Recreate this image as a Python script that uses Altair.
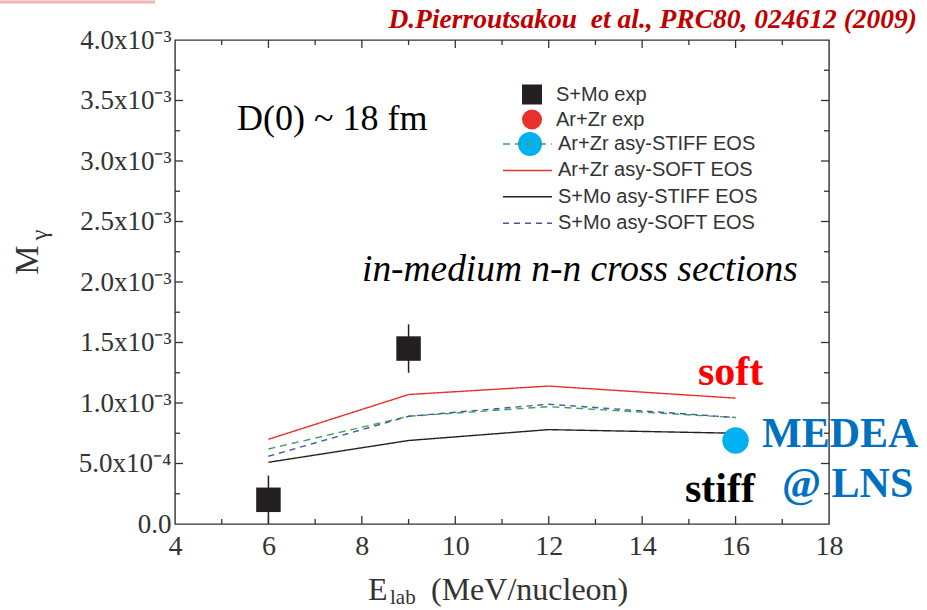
import altair as alt
import pandas as pd

# ---------------- data ----------------
model_x = [6, 9, 12, 16]
arzr_stiff = [0.00062, 0.00089, 0.00097, 0.00088]
arzr_soft = [0.00070, 0.00107, 0.00114, 0.00104]
smo_stiff = [0.00051, 0.00069, 0.00078, 0.00075]
smo_soft = [0.00056, 0.00089, 0.00099, 0.00088]
model_names = ["Ar+Zr asy-STIFF EOS", "Ar+Zr asy-SOFT EOS",
               "S+Mo asy-STIFF EOS", "S+Mo asy-SOFT EOS"]

exp_names = ["S+Mo exp", "Ar+Zr exp"]
smo_exp_x = [6, 9]
smo_exp_y = [0.00020, 0.00145]
smo_exp_err = [0.00020, 0.00020]

medea_x = [16]
medea_y = [0.00069]

x_label_vals = [4, 6, 8, 10, 12, 14, 16, 18]
y_label_vals = [0, 0.0005, 0.001, 0.0015, 0.002, 0.0025, 0.003, 0.0035, 0.004]
x_tick_vals = [5, 6, 7, 8, 9, 10, 11, 12, 13, 14, 15, 16, 17]
x_tick_major = [False, True, False, True, False, True, False, True, False, True, False, True, False]
y_tick_vals = [0.00025, 0.0005, 0.00075, 0.001, 0.00125, 0.0015, 0.00175, 0.002,
               0.00225, 0.0025, 0.00275, 0.003, 0.00325, 0.0035, 0.00375]
y_tick_major = [False, True, False, True, False, True, False, True,
                False, True, False, True, False, True, False]

citation = "D.Pierroutsakou\u00a0 et al., PRC80, 024612 (2009)"
note_d0 = "D(0) ~ 18 fm"
note_xsec = "in-medium n-n cross sections"
label_soft = "soft"
label_stiff = "stiff"
label_medea = "MEDEA"
label_lns = "@ LNS"
xtitle_main = "E"
xtitle_sub = "lab"
xtitle_unit = "(MeV/nucleon)"
ytitle_main = "M"
ytitle_sub = "γ"

# ---------------- layout ----------------
W, H = 654, 484
SERIF = "Liberation Serif"
SANS = "Liberation Sans"

xs = alt.Scale(domain=[4, 18], nice=False, zero=False)
ys = alt.Scale(domain=[0, 0.004], nice=False, zero=False)

x_axis = alt.Axis(values=x_label_vals, labelFont=SERIF, labelFontSize=28, labelColor="#333333",
                  ticks=False, domain=False, grid=False, title=None, labelPadding=8,
                  labelFlush=False)
y_label_expr = ("datum.value == 0 ? '0.0' : (datum.value < 0.00099 ? "
                "format(datum.value*10000, '.1f') + 'x10⁻⁴' : "
                "format(datum.value*1000, '.1f') + 'x10⁻³')")
y_axis = alt.Axis(values=y_label_vals, labelExpr=y_label_expr, labelFont=SERIF, labelFontSize=27,
                  labelColor="#333333", ticks=False, domain=False, grid=False, title=None,
                  labelPadding=4, labelFlush=False)

# model lines
rows = []
for name, vals in zip(model_names, [arzr_stiff, arzr_soft, smo_stiff, smo_soft]):
    for xv, yv in zip(model_x, vals):
        rows.append({"model": name, "x": xv, "y": yv})
lines_df = pd.DataFrame(rows)

line_legend = alt.Legend(title=None, orient="none", legendX=327, legendY=91, clipHeight=26,
                         rowPadding=0.4, padding=0, symbolSize=2401, symbolStrokeWidth=1.5,
                         labelFont=SANS, labelFontSize=20, labelColor="#333333", labelOffset=5,
                         labelLimit=400, symbolType="stroke")
lines = alt.Chart(lines_df).mark_line(strokeWidth=1.4, clip=True).encode(
    x=alt.X("x:Q", scale=xs, axis=x_axis),
    y=alt.Y("y:Q", scale=ys, axis=y_axis),
    color=alt.Color("model:N", scale=alt.Scale(domain=model_names,
                    range=["#3aa655", "#e8302c", "#222222", "#4a55a8"]), legend=line_legend),
    strokeDash=alt.StrokeDash("model:N", scale=alt.Scale(domain=model_names,
                    range=[[7, 5], [1, 0], [1, 0], [6, 5]]), legend=line_legend),
)

# experimental points
exp_df = pd.DataFrame({"x": smo_exp_x, "y": smo_exp_y, "err": smo_exp_err,
                       "series": ["S+Mo exp"] * len(smo_exp_x)})
pt_legend = alt.Legend(title=None, orient="none", legendX=347, legendY=42, clipHeight=25,
                       rowPadding=0, padding=0, symbolSize=400, symbolStrokeWidth=0,
                       labelFont=SANS, labelFontSize=20, labelColor="#333333", labelOffset=14,
                       labelLimit=400)
errbars = alt.Chart(exp_df).transform_calculate(
    lo="max(datum.y - datum.err, 0)", hi="datum.y + datum.err"
).mark_rule(color="#231f20", strokeWidth=1.5).encode(
    x=alt.X("x:Q", scale=xs, axis=x_axis),
    y=alt.Y("lo:Q", scale=ys, axis=y_axis),
    y2="hi:Q",
)
points = alt.Chart(exp_df).mark_point(filled=True, size=600, opacity=1).encode(
    x=alt.X("x:Q", scale=xs, axis=x_axis),
    y=alt.Y("y:Q", scale=ys, axis=y_axis),
    shape=alt.Shape("series:N", scale=alt.Scale(domain=exp_names, range=["square", "circle"]),
                    legend=pt_legend),
    color=alt.Color("series:N", scale=alt.Scale(domain=exp_names, range=["#231f20", "#e8302c"]),
                    legend=pt_legend),
)

medea_df = pd.DataFrame({"x": medea_x, "y": medea_y})
medea = alt.Chart(medea_df).mark_circle(size=700, color="#00b0f0", opacity=1).encode(
    x=alt.X("x:Q", scale=xs, axis=x_axis),
    y=alt.Y("y:Q", scale=ys, axis=y_axis),
)
legend_dot = alt.Chart(pd.DataFrame({"k": [0]})).mark_circle(
    size=573, color="#00b0f0", opacity=1).encode(x=alt.value(355), y=alt.value(104))

# inward ticks on all four sides
xt = pd.DataFrame({"v": x_tick_vals, "len": [16 if m else 10 for m in x_tick_major]})
yt = pd.DataFrame({"v": y_tick_vals, "len": [16 if m else 10 for m in y_tick_major]})
tick_style = dict(color="#333333", thickness=1.3, clip=True, opacity=1)
xt_bottom = alt.Chart(xt).mark_tick(orient="vertical", **tick_style).encode(
    x=alt.X("v:Q", scale=xs, axis=x_axis), y=alt.value(H), size=alt.Size("len:Q", scale=None))
xt_top = alt.Chart(xt).mark_tick(orient="vertical", **tick_style).encode(
    x=alt.X("v:Q", scale=xs, axis=x_axis), y=alt.value(0), size=alt.Size("len:Q", scale=None))
yt_left = alt.Chart(yt).mark_tick(orient="horizontal", **tick_style).encode(
    y=alt.Y("v:Q", scale=ys, axis=y_axis), x=alt.value(0), size=alt.Size("len:Q", scale=None))
yt_right = alt.Chart(yt).mark_tick(orient="horizontal", **tick_style).encode(
    y=alt.Y("v:Q", scale=ys, axis=y_axis), x=alt.value(W), size=alt.Size("len:Q", scale=None))


def txt(text, x, y, size, color="black", font=SERIF, weight="normal", style="normal",
        align="left", baseline="alphabetic", angle=0):
    return alt.Chart(pd.DataFrame({"t": [text]})).mark_text(
        align=align, baseline=baseline, font=font, fontSize=size, fontWeight=weight,
        fontStyle=style, color=color, angle=angle).encode(
        x=alt.value(x), y=alt.value(y), text="t:N")


texts = [
    txt(citation, 742, -12, 27.5, color="#c00000", weight="bold", style="italic", align="right"),
    txt(note_d0, 62, 90, 36),
    txt(note_xsec, 187, 241, 37.4, style="italic"),
    txt(label_soft, 523, 345, 42, color="#ff0000", weight="bold"),
    txt(label_stiff, 510, 462, 42, color="#000000", weight="bold"),
    txt(label_medea, 587, 407, 42, color="#0070c0", weight="bold"),
    txt(label_lns, 607, 457, 42, color="#0070c0", weight="bold"),
    txt(xtitle_main, 193, 560, 32, color="#333333"),
    txt(xtitle_sub, 215, 564, 21, color="#333333"),
    txt(xtitle_unit, 256, 560, 32, color="#333333"),
    txt(ytitle_main, -147, 220, 33, color="#333333", align="center", baseline="middle", angle=270),
    txt(ytitle_sub, -135, 195, 24, color="#333333", align="center", baseline="middle", angle=270),
]

pink = alt.Chart(pd.DataFrame({"k": [0]})).mark_rule(color="#f4b4b4", strokeWidth=3).encode(
    x=alt.value(-175), x2=alt.value(-20), y=alt.value(-38))

chart = alt.layer(
    lines, errbars, points, medea, legend_dot,
    xt_bottom, xt_top, yt_left, yt_right, pink, *texts
).resolve_scale(
    color="independent", shape="independent", strokeDash="independent"
).properties(
    width=W, height=H,
    autosize=alt.AutoSizeParams(type="none"),
    padding={"left": 175, "top": 40, "right": 98, "bottom": 86},
    background="white",
).configure_view(stroke="#333333", strokeWidth=1.4)

chart.save("out.html", embed_options={"renderer": "svg", "actions": False})
